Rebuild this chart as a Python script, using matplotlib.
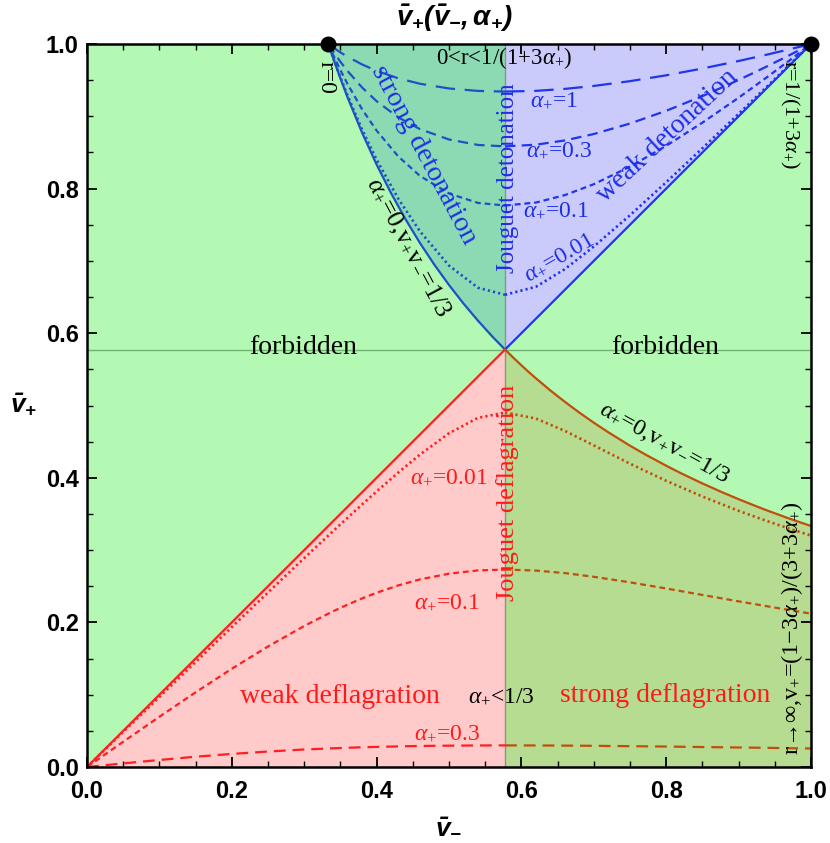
import matplotlib
matplotlib.use("Agg")
import matplotlib.pyplot as plt
from matplotlib.ticker import MultipleLocator

plt.rcParams['mathtext.fontset'] = 'custom'
plt.rcParams['mathtext.rm'] = 'Liberation Serif'
plt.rcParams['mathtext.it'] = 'Liberation Serif:italic'
plt.rcParams['mathtext.bf'] = 'Liberation Sans:bold:italic'
plt.rcParams['mathtext.sf'] = 'Liberation Sans'
plt.rcParams['lines.scale_dashes'] = False

# ---------------- data ----------------
cs = 0.5774                      # Jouguet velocity 1/sqrt(3)
r0_point = (0.3333, 1.0)         # r = 0 end point
r1_point = (1.0, 1.0)            # r = 1/(1+3 alpha) end point

# detonation branch, v_- grid
v_det = [0.3333, 0.34, 0.35, 0.36, 0.38, 0.40, 0.43, 0.46, 0.50, 0.54, 0.5774,
         0.62, 0.66, 0.70, 0.75, 0.80, 0.85, 0.90, 0.94, 0.97, 1.00]
det_a1 = [1.0, 0.9952, 0.9884, 0.9823, 0.9717, 0.9629, 0.9525, 0.9450, 0.9385, 0.9351, 0.9342,
          0.9352, 0.9379, 0.9420, 0.9486, 0.9567, 0.9661, 0.9765, 0.9855, 0.9926, 1.0]
det_a03 = [1.0, 0.9898, 0.9755, 0.9625, 0.9398, 0.9209, 0.8985, 0.8822, 0.8679, 0.8604, 0.8584,
           0.8607, 0.8666, 0.8755, 0.8900, 0.9076, 0.9279, 0.9502, 0.9694, 0.9844, 1.0]
det_a01 = [1.0, 0.9850, 0.9639, 0.9444, 0.9097, 0.8802, 0.8444, 0.8175, 0.7932, 0.7802, 0.7766,
           0.7807, 0.7910, 0.8061, 0.8304, 0.8592, 0.8912, 0.9257, 0.9547, 0.9771, 1.0]
det_a001 = [1.0, 0.9810, 0.9539, 0.9284, 0.8816, 0.8400, 0.7859, 0.7407, 0.6935, 0.6629, 0.6531,
            0.6642, 0.6886, 0.7198, 0.7631, 0.8088, 0.8558, 0.9034, 0.9419, 0.9709, 1.0]
# alpha = 0 detonation: left part (v+ v- = 1/3) and right part (v+ = v-)
v_det0_left = [0.3333, 0.34, 0.35, 0.36, 0.38, 0.40, 0.42, 0.44, 0.46, 0.48, 0.50, 0.52,
               0.54, 0.56, 0.5774]
det_a0_left = [1.0, 0.9804, 0.9524, 0.9259, 0.8772, 0.8333, 0.7937, 0.7576, 0.7246, 0.6944,
               0.6667, 0.6410, 0.6173, 0.5952, 0.5774]
v_det0_right = [0.5774, 1.0]
det_a0_right = [0.5774, 1.0]

# deflagration branch, v_- grid
v_def = [0.0, 0.02, 0.05, 0.10, 0.15, 0.20, 0.25, 0.30, 0.3333, 0.34, 0.35, 0.36, 0.38, 0.40,
         0.43, 0.46, 0.50, 0.54, 0.5774, 0.62, 0.66, 0.70, 0.75, 0.80, 0.85, 0.90, 0.94, 0.97, 1.00]
def_a001 = [0.0, 0.0194, 0.0485, 0.0969, 0.1453, 0.1935, 0.2414, 0.2889, 0.3201, 0.3263, 0.3356,
            0.3448, 0.3631, 0.3811, 0.4073, 0.4322, 0.4616, 0.4829, 0.4902, 0.4820, 0.4649,
            0.4448, 0.4195, 0.3958, 0.3741, 0.3543, 0.3399, 0.3297, 0.3201]
def_a01 = [0.0, 0.0140, 0.0349, 0.0695, 0.1033, 0.1359, 0.1667, 0.1950, 0.2121, 0.2154, 0.2201,
           0.2246, 0.2332, 0.2410, 0.2512, 0.2595, 0.2674, 0.2719, 0.2731, 0.2717, 0.2682,
           0.2631, 0.2554, 0.2469, 0.2380, 0.2291, 0.2222, 0.2171, 0.2121]
def_a03 = [0.0, 0.0020, 0.0050, 0.0097, 0.0142, 0.0181, 0.0214, 0.0242, 0.0256, 0.0259, 0.0263,
           0.0266, 0.0273, 0.0278, 0.0285, 0.0291, 0.0295, 0.0298, 0.0299, 0.0298, 0.0296,
           0.0293, 0.0288, 0.0283, 0.0276, 0.0270, 0.0265, 0.0260, 0.0256]
# alpha = 0 deflagration: left part (v+ = v-) and right part (v+ v- = 1/3)
v_def0_left = [0.0, 0.5774]
def_a0_left = [0.0, 0.5774]
v_def0_right = [0.5774, 0.59, 0.60, 0.61, 0.62, 0.64, 0.66, 0.68, 0.70, 0.72, 0.75, 0.77, 0.80,
                0.82, 0.85, 0.875, 0.90, 0.925, 0.94, 0.97, 1.00]
def_a0_right = [0.5774, 0.5650, 0.5556, 0.5464, 0.5376, 0.5208, 0.5051, 0.4902, 0.4762, 0.4630,
                0.4444, 0.4329, 0.4167, 0.4065, 0.3922, 0.3810, 0.3704, 0.3604, 0.3546, 0.3436,
                0.3333]

x_ticks = [0.0, 0.2, 0.4, 0.6, 0.8, 1.0]
tick_labels = ['0.0', '0.2', '0.4', '0.6', '0.8', '1.0']

# ---------------- style ----------------
C_BG = '#b3f8b3'
C_STRONG_DET = '#8cdab4'
C_WEAK_DET = '#cacafb'
C_WEAK_DEF = '#ffcaca'
C_STRONG_DEF = '#b5dc90'
C_BLUE_L = '#1c52c4'
C_BLUE_R = '#1f35ee'
C_RED_L = '#ff1f1f'
C_RED_R = '#c04f0c'
C_TXT_BLUE = '#1d2fe6'
C_TXT_RED = '#ff1a1a'

det_styles = {
    'a1': dict(dashes=(14, 7), lw=1.6),
    'a03': dict(dashes=(7.5, 4.5), lw=1.6),
    'a01': dict(dashes=(4.2, 2.8), lw=1.6),
    'a001': dict(dashes=(1.6, 2.2), lw=1.9),
}
def_styles = {
    'a03': dict(dashes=(8.5, 5), lw=1.6),
    'a01': dict(dashes=(4.2, 2.8), lw=1.6),
    'a001': dict(dashes=(1.6, 2.2), lw=1.9),
}

fig = plt.figure(figsize=(8.30, 8.43), dpi=100)
ax = fig.add_axes([87/830, 76/843, 724/830, 723/843])
ax.set_xlim(0, 1)
ax.set_ylim(0, 1)
ax.set_facecolor(C_BG)

# ---------------- regions ----------------
ax.fill_between(v_det0_left, det_a0_left, 1.0, color=C_STRONG_DET, lw=0, zorder=1)
ax.fill_between(v_det0_right, det_a0_right, 1.0, color=C_WEAK_DET, lw=0, zorder=1)
ax.fill_between(v_def0_left, 0.0, def_a0_left, color=C_WEAK_DEF, lw=0, zorder=1)
ax.fill_between(v_def0_right, 0.0, def_a0_right, color=C_STRONG_DEF, lw=0, zorder=1)

# reference lines
ax.axhline(cs, color='#6fb56f', lw=1.0, zorder=2)
ax.axvline(cs, color='#8a948a', lw=1.0, zorder=2)


def split(xs, ys, xc):
    left = [(x, y) for x, y in zip(xs, ys) if x <= xc]
    right = [(x, y) for x, y in zip(xs, ys) if x >= xc]
    return ([p[0] for p in left], [p[1] for p in left]), ([p[0] for p in right], [p[1] for p in right])


for key, ys in (('a1', det_a1), ('a03', det_a03), ('a01', det_a01), ('a001', det_a001)):
    (xl, yl), (xr, yr) = split(v_det, ys, cs)
    st = det_styles[key]
    ax.plot(xl, yl, color=C_BLUE_L, lw=st['lw'], dashes=st['dashes'], zorder=3)
    ax.plot(xr, yr, color=C_BLUE_R, lw=st['lw'], dashes=st['dashes'], zorder=3)

for key, ys in (('a03', def_a03), ('a01', def_a01), ('a001', def_a001)):
    (xl, yl), (xr, yr) = split(v_def, ys, cs)
    st = def_styles[key]
    ax.plot(xl, yl, color=C_RED_L, lw=st['lw'], dashes=st['dashes'], zorder=3)
    ax.plot(xr, yr, color=C_RED_R, lw=st['lw'], dashes=st['dashes'], zorder=3)

ax.plot(v_det0_left, det_a0_left, color=C_BLUE_L, lw=1.6, zorder=4)
ax.plot(v_det0_right, det_a0_right, color=C_BLUE_R, lw=1.6, zorder=4)
ax.plot(v_def0_left, def_a0_left, color=C_RED_L, lw=1.6, zorder=4)
ax.plot(v_def0_right, def_a0_right, color=C_RED_R, lw=1.6, zorder=4)

ax.plot([r0_point[0], r1_point[0]], [r0_point[1], r1_point[1]], 'o', color='black',
        ms=10.5, clip_on=False, zorder=10, lw=0)

# ---------------- axes styling ----------------
for s in ax.spines.values():
    s.set_linewidth(1.8)
    s.set_color('black')
    s.set_zorder(9)
ax.xaxis.set_major_locator(MultipleLocator(0.2))
ax.yaxis.set_major_locator(MultipleLocator(0.2))
ax.xaxis.set_minor_locator(MultipleLocator(0.05))
ax.yaxis.set_minor_locator(MultipleLocator(0.05))
ax.tick_params(which='both', direction='in', top=True, right=True, color='black')
ax.tick_params(which='major', length=7, width=1.3)
ax.tick_params(which='minor', length=4, width=1.0)
ax.tick_params(axis='x', which='major', pad=9)
ax.tick_params(axis='y', which='major', pad=6)
ax.set_xticks(x_ticks)
ax.set_yticks(x_ticks)
ax.set_xticklabels(tick_labels, fontsize=17, fontweight='bold', family='Liberation Sans')
ax.set_yticklabels(tick_labels, fontsize=17, fontweight='bold', family='Liberation Sans')

fig.text(454/830, 1 - 18/843, r'$\mathbf{\bar{v}_{+}(\bar{v}_{-},\alpha_{+})}$', fontsize=20,
         ha='center', va='center')
fig.text(24/830, 1 - 405/843, r'$\mathbf{\bar{v}_{+}}$', fontsize=19, ha='center', va='center')
fig.text(449/830, 1 - 826/843, r'$\mathbf{\bar{v}_{-}}$', fontsize=19, ha='center', va='center')

# ---------------- annotations ----------------
serif = 'Liberation Serif'


def T(x, y, s, size, color='black', rot=0):
    ax.text(x, y, s, fontsize=size, color=color, rotation=rot, ha='center', va='center',
            family=serif, rotation_mode='anchor', zorder=6)


T(0.576, 0.981, r'0<r<1/(1+3$\alpha_{+}$)', 16.5)
T(0.330, 0.954, 'r=0', 17, rot=-90)
T(0.971, 0.902, r'r=1/(1+3$\alpha_{+}$)', 16, rot=-90)
T(0.974, 0.192, 'r\u2192\u221e,' + r'$\mathrm{v}_{+}$=(1$-$3$\alpha_{+}$)/(3+3$\alpha_{+}$)', 17.5, rot=90)

T(0.4655, 0.846, 'strong detonation', 20.5, C_TXT_BLUE, rot=-62)
T(0.801, 0.873, 'weak detonation', 20, C_TXT_BLUE, rot=43)
T(0.581, 0.815, 'Jouguet detonation', 18, C_TXT_BLUE, rot=90)
T(0.581, 0.379, 'Jouguet deflagration', 19, C_TXT_RED, rot=90)

T(0.443, 0.718, r'$\alpha_{+}$=0,$\mathrm{v}_{+}\mathrm{v}_{-}$=1/3', 18.5, rot=-62)
T(0.797, 0.448, r'$\alpha_{+}$=0,$\mathrm{v}_{+}\mathrm{v}_{-}$=1/3', 17.5, rot=-29)

T(0.298, 0.580, 'forbidden', 20)
T(0.798, 0.580, 'forbidden', 20)

T(0.349, 0.097, 'weak deflagration', 20, C_TXT_RED)
T(0.798, 0.099, 'strong deflagration', 20, C_TXT_RED)
T(0.573, 0.097, r'$\alpha_{+}$<1/3', 17)

T(0.645, 0.921, r'$\alpha_{+}$=1', 17, C_TXT_BLUE)
T(0.652, 0.852, r'$\alpha_{+}$=0.3', 17, C_TXT_BLUE)
T(0.648, 0.769, r'$\alpha_{+}$=0.1', 17, C_TXT_BLUE)
T(0.652, 0.705, r'$\alpha_{+}$=0.01', 17, C_TXT_BLUE, rot=30)

T(0.499, 0.400, r'$\alpha_{+}$=0.01', 17, C_TXT_RED)
T(0.497, 0.227, r'$\alpha_{+}$=0.1', 17, C_TXT_RED)
T(0.497, 0.046, r'$\alpha_{+}$=0.3', 17, C_TXT_RED)

fig.savefig('out.png', dpi=100)
